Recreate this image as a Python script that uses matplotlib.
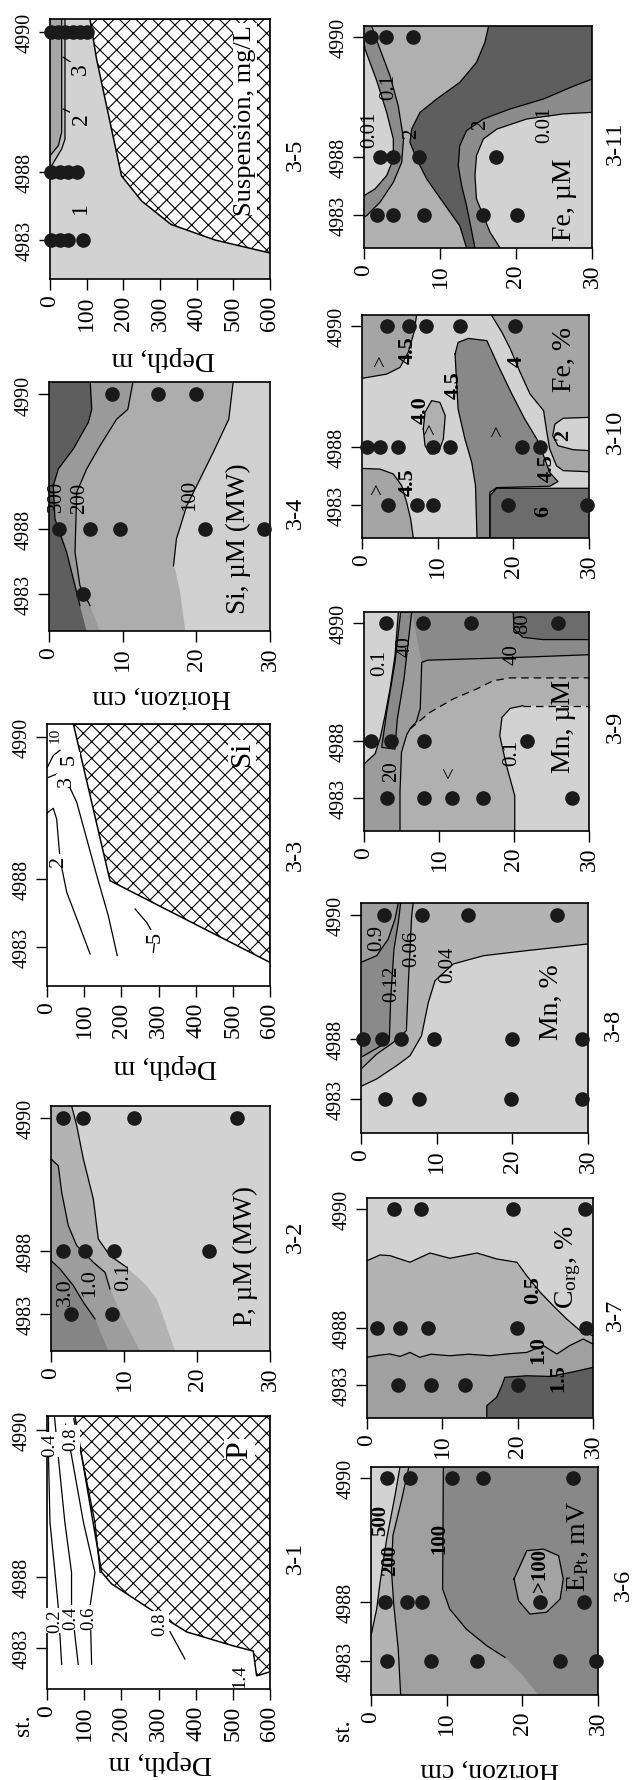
import matplotlib
matplotlib.use('Agg')
import matplotlib.pyplot as plt
from matplotlib.patches import Polygon

plt.rcParams['font.family'] = ['Liberation Serif', 'DejaVu Serif']
plt.rcParams['mathtext.fontset'] = 'custom'
plt.rcParams['mathtext.rm'] = 'Liberation Serif'
plt.rcParams['mathtext.it'] = 'Liberation Serif:italic'
plt.rcParams['hatch.linewidth'] = 0.8

# ---------------------------------------------------------------- data
STATIONS = ['4983', '4988', '4990']
STATION_DIST = [0.15, 0.41, 0.95]          # relative distance along the section
DEPTH_TICKS = [0, 100, 200, 300, 400, 500, 600]
HORIZON_TICKS = [0, 10, 20, 30]

# 3-1  P in the water column (depth m, distance)
P_FLOOR = [(75, 1.0), (147, 0.428), (174, 0.385), (277, 0.293), (376, 0.209),
           (501, 0.158), (555, 0.139), (564, 0.048), (598, 0.062), (600, 0.062)]
P_ISO_02 = [(4, 1.0), (4, 0.855), (8, 0.611), (21.5, 0.427), (30, 0.305), (39.5, 0.09)]
P_ISO_04 = [(20, 1.0), (30, 0.855), (48, 0.611), (66, 0.427), (66, 0.305), (84, 0.09)]
P_ISO_06 = [(50, 0.97), (66, 0.855), (98, 0.611), (129, 0.427), (116, 0.305), (120, 0.09)]
P_ISO_08 = [(72, 0.99), (93, 0.855), (129, 0.611), (143, 0.427)]
P_ISO_08B = [(331, 0.21), (371, 0.11)]

# 3-2  P in pore water (horizon cm, distance)
P_MW_01_LINE = [(2.83, 1.0), (3.52, 0.92), (4.43, 0.784), (5.8, 0.62), (6.48, 0.457),
                (8.08, 0.389), (10.4, 0.341)]
P_MW_01_SOFT = [(13.1, 0.267), (14.5, 0.212), (15.8, 0.103), (17.0, 0.0)]
P_MW_10_LINE = [(0, 0.784), (1.0, 0.756), (1.46, 0.648), (2.37, 0.512), (3.52, 0.43),
                (5.8, 0.362), (7.4, 0.321), (8.08, 0.253)]
P_MW_10_SOFT = [(9.9, 0.131), (12.2, 0.0)]
P_MW_30_LINE = [(0, 0.369), (1.23, 0.335), (3.06, 0.267), (4.43, 0.199), (6.03, 0.131)]
P_MW_30_SOFT = [(7.85, 0.0)]
P_MW_SAMPLES = [[2.8, 8.3], [1.7, 4.6, 8.6, 21.7], [1.7, 4.4, 11.4, 25.5]]

# 3-3  Si in the water column
SI_FLOOR = [(71, 1.0), (169.5, 0.402), (600, 0.09)]
SI_ISO_2 = [(0, 0.66), (8, 0.669), (17, 0.678), (26, 0.637), (35, 0.485), (53, 0.358),
            (84, 0.243), (116, 0.122)]
SI_ISO_3 = [(3.6, 0.796), (26, 0.809), (57, 0.771), (80, 0.701), (107, 0.561),
            (134, 0.421), (165, 0.268), (189, 0.116)]
SI_ISO_5 = [(1, 0.835), (17, 0.88), (35, 0.9)]
SI_ISO_5B = [(237, 0.294), (268, 0.243), (291, 0.186), (286, 0.128)]

# 3-4  Si in pore water
SI_MW_300_LINE = [(5.6, 1.0), (5.8, 0.89), (5.34, 0.838), (3.3, 0.731), (1.27, 0.651),
                  (0.59, 0.584), (0.81, 0.45), (2.4, 0.316), (4.2, 0.102)]
SI_MW_300_SOFT = [(5.1, 0.0)]
SI_MW_200_LINE = [(11.4, 1.0), (10.7, 0.89), (9.19, 0.851), (6.92, 0.744), (5.1, 0.65),
                  (3.76, 0.557), (3.53, 0.316), (4.2, 0.182), (5.57, 0.102)]
SI_MW_200_SOFT = [(6.9, 0.0)]
SI_MW_100_LINE = [(25.0, 1.0), (24.4, 0.85), (22.3, 0.718), (20.5, 0.61), (18.7, 0.503),
                  (17.3, 0.37), (16.9, 0.262)]
SI_MW_100_SOFT = [(17.1, 0.249), (17.8, 0.155), (18.5, 0.0)]
SI_MW_SAMPLES = [[4.66], [1.4, 5.5, 9.7, 21.2, 29.2], [8.5, 14.8, 20.0]]

# 3-5  suspension
SUS_FLOOR = [(109, 1.0), (127, 0.846), (195, 0.397), (250, 0.3), (330, 0.21),
             (450, 0.15), (600, 0.1)]
SUS_ISO_3 = [(31.8, 1.0), (31.8, 0.564), (22.7, 0.513), (0, 0.474)]
SUS_ISO_2 = [(40.9, 1.0), (40.9, 0.538), (31.8, 0.5), (4.5, 0.436), (0, 0.43)]
SUS_SAMPLES = [[4, 27, 50, 91], [4, 27, 50, 73], [3, 22, 42, 62, 82, 100]]

# 3-6  Eh (E_Pt)
EH_500 = [(3.83, 1.0), (3.17, 0.874), (2.07, 0.684), (1.2, 0.494), (0.75, 0.377),
          (0.1, 0.275), (0, 0.262)]
EH_200 = [(5.0, 1.0), (4.0, 0.85), (2.9, 0.7), (2.7, 0.55), (3.0, 0.4), (3.6, 0.2), (3.92, 0.0)]
EH_100_LINE = [(9.56, 1.0), (9.47, 0.465), (10.4, 0.377), (12.6, 0.289), (15.3, 0.216),
               (17.7, 0.165)]
EH_100_SOFT = [(20.1, 0.085), (22.1, 0.0)]
EH_OVAL = [(18.9, 0.509), (20.6, 0.633), (22.8, 0.64), (24.8, 0.611), (25.4, 0.509),
           (25.0, 0.421), (23.2, 0.363), (21.0, 0.355), (19.5, 0.414)]
EH_SAMPLES = [[2.16, 7.9, 14.05, 25, 29.7], [1.85, 4.7, 6.8, 22.3, 28.1],
              [2.16, 5.15, 10.75, 14.85, 26.7]]

# 3-7  C org
C_05 = [(0, 0.715), (1.73, 0.741), (3.05, 0.738), (5.7, 0.708), (8.36, 0.75), (11, 0.726),
        (14.6, 0.75), (17.2, 0.723), (19.9, 0.708), (21.2, 0.647), (23, 0.571), (24.7, 0.511),
        (26.5, 0.45), (28.3, 0.397), (30, 0.374)]
C_10 = [(0, 0.276), (1.5, 0.285), (3.05, 0.291), (4.4, 0.28), (5.7, 0.298), (7.0, 0.276),
        (8.5, 0.29), (11, 0.283), (13.5, 0.29), (16.3, 0.283), (18.8, 0.292), (21.2, 0.298),
        (23.4, 0.329), (25.2, 0.291), (26.9, 0.329), (28.7, 0.359), (30, 0.336)]
C_15 = [(15.9, 0.0), (15.9, 0.056), (17.2, 0.094), (17.9, 0.147), (18.3, 0.185),
        (21.2, 0.192), (24.3, 0.189), (27.4, 0.21), (30, 0.23)]
C_SAMPLES = [[4.16, 8.45, 13.0, 20.1], [1.37, 4.38, 8.14, 19.9, 29.1], [3.58, 7.17, 19.4, 28.9]]

# 3-8  Mn %
MN_004 = [(0, 0.203), (2.07, 0.235), (4.71, 0.293), (6.48, 0.336), (8.0, 0.423), (8.9, 0.568),
          (9.78, 0.662), (12.2, 0.735), (16.2, 0.771), (21.9, 0.793), (30, 0.822)]
MN_006 = [(0, 0.278), (2.07, 0.343), (4.27, 0.394), (6.0, 0.445), (6.26, 0.655), (6.48, 0.8),
          (6.7, 0.945), (6.9, 1.0)]
MN_012 = [(0, 0.329), (2.07, 0.368), (3.74, 0.401), (3.92, 0.583), (4.36, 0.8), (4.93, 0.916),
          (5.24, 1.0)]
MN_09 = [(0, 0.742), (2.07, 0.771), (3.6, 0.843), (4.49, 0.93), (4.93, 1.0)]
MN_SAMPLES = [[3.17, 7.7, 19.8, 29.2], [0.31, 2.73, 5.29, 9.7, 20.0, 29.2], [3.04, 8.0, 14.2, 25.9]]

# 3-9  Mn uM
MNU_01_TOP = [(4.58, 1.0), (4.13, 0.8), (3.47, 0.648), (2.8, 0.527), (2.13, 0.42),
              (1.47, 0.352), (0, 0.306)]
MNU_STRIP = [(6.36, 1.0), (5.33, 0.694), (4.44, 0.511), (4.13, 0.374), (2.36, 0.382),
             (3.02, 0.542), (4.13, 0.77), (4.89, 1.0)]
MNU_20 = [(4.8, 0.0), (4.8, 0.18), (5.0, 0.36), (5.7, 0.44), (6.13, 0.466)]
MNU_40_SIDE = [(6.13, 0.466), (7.0, 0.5), (7.5, 0.56), (7.7, 0.77)]
MNU_40_TOP = [(7.7, 0.77), (8.5, 0.78), (20, 0.792), (30, 0.805)]
MNU_80 = [(19.9, 1.0), (20.0, 0.922), (21.2, 0.884), (23.9, 0.874), (30, 0.874)]
MNU_DASH = [(6.13, 0.466), (8.8, 0.542), (11.9, 0.603), (15.0, 0.648), (17.2, 0.686),
            (19.5, 0.699), (30, 0.699)]
MNU_01_BOT = [(20.1, 0.0), (20.1, 0.161), (19.0, 0.298), (18.1, 0.435), (18.4, 0.519),
              (19.5, 0.56), (21.2, 0.572)]
MNU_DASH2 = [(21.2, 0.572), (30, 0.572)]
MNU_SAMPLES = [[3.02, 8.04, 11.7, 15.8, 27.7], [0.93, 3.56, 8.0, 21.7], [2.93, 7.9, 14.2, 25.9]]

# 3-10  Fe %
FE_TL = [(7.22, 1.0), (6.87, 0.922), (6.12, 0.833), (5.02, 0.765), (3.26, 0.735), (0, 0.716)]
FE_BL = [(0, 0.312), (2.38, 0.309), (4.14, 0.287), (5.24, 0.235), (5.9, 0.16), (6.43, 0.085),
         (6.78, 0.0)]
FE_RIGHT = [(17.1, 1.0), (18.5, 0.922), (19.6, 0.848), (20.9, 0.743), (22.2, 0.646),
            (24.0, 0.571), (24.4, 0.48), (24.8, 0.40), (25.7, 0.324), (26.6, 0.302), (30, 0.297)]
FE_CENTRAL = [(12.3, 0.825), (12.7, 0.877), (14.05, 0.895), (16.5, 0.885), (18.0, 0.773),
              (19.8, 0.646), (21.5, 0.534), (23.1, 0.444), (24.0, 0.369), (24.8, 0.294),
              (25.9, 0.253), (24.8, 0.232), (17.8, 0.226), (16.9, 0.205), (16.9, 0.0),
              (15.2, 0.0), (15.0, 0.235), (14.5, 0.339), (13.6, 0.444), (12.7, 0.578),
              (12.5, 0.698)]
FE_DARK = [(16.9, 0.0), (16.9, 0.19), (17.8, 0.223), (30, 0.223), (30, 0.0)]
FE_TWO = [(30, 0.541), (26.6, 0.537), (25.5, 0.511), (25.2, 0.459), (25.9, 0.414),
          (27.9, 0.396), (30, 0.392)]
FE_OVAL = [(8.1, 0.489), (8.33, 0.564), (9.2, 0.616), (10.3, 0.608), (11.0, 0.549),
           (10.75, 0.444), (10.1, 0.384), (9.0, 0.377), (8.33, 0.414)]
FE_SAMPLES = [[3.48, 7.22, 9.43, 19.3, 29.7], [0.62, 2.38, 4.8, 9.43, 11.6, 21.1, 23.5],
              [3.26, 6.26, 8.46, 12.95, 20.2]]

# 3-11  Fe uM
FEU_01 = [(1.0, 1.0), (2.1, 0.896), (3.42, 0.776), (4.5, 0.641), (5.2, 0.491), (4.96, 0.386),
          (3.86, 0.296), (2.1, 0.206), (0.35, 0.146), (0, 0.138)]
FEU_001_TL = [(0, 0.93), (0.13, 0.896), (1.67, 0.754), (2.98, 0.611), (3.86, 0.491),
              (3.86, 0.401), (2.98, 0.326), (1.45, 0.266), (0, 0.236)]
FEU_2_LEFT = [(16.4, 1.0), (15.9, 0.926), (14.8, 0.836), (12.6, 0.746), (9.56, 0.671),
              (7.37, 0.611), (6.27, 0.536), (6.05, 0.476), (6.93, 0.401), (8.25, 0.311),
              (10.4, 0.206), (12.6, 0.1), (13.5, 0.0)]
FEU_2_RIGHT = [(30, 0.761), (27.5, 0.728), (23.6, 0.671), (19.2, 0.626), (15.7, 0.581),
               (13.5, 0.529), (12.6, 0.461), (12.4, 0.371), (12.85, 0.281), (13.5, 0.19),
               (14.2, 0.07), (14.6, 0.0)]
FEU_001_BR = [(17.9, 0.0), (16.6, 0.07), (14.8, 0.221), (14.6, 0.326), (14.8, 0.416),
              (15.7, 0.491), (17.5, 0.536), (21.4, 0.581), (26.2, 0.604), (30, 0.611)]
FEU_SAMPLES = [[1.67, 3.77, 7.9, 15.7, 20.1], [2.1, 3.77, 7.28, 17.4], [0.92, 2.9, 6.4]]

# ---------------------------------------------------------------- styles
LIGHT = '#d2d2d2'
MID = '#b3b3b3'
MID2 = '#a0a0a0'
DARK = '#888888'
DARKER = '#6c6c6c'
DARKEST = '#5e5e5e'

W, H = 637, 1781
fig = plt.figure(figsize=(W / 100, H / 100), dpi=100)


def panel(box, xmax, xticks):
    x0, y0, x1, y1 = box
    ax = fig.add_axes([x0 / W, 1 - y1 / H, (x1 - x0) / W, (y1 - y0) / H])
    ax.set_xlim(0, xmax)
    ax.set_ylim(0, 1)
    ax.set_xticks(xticks)
    ax.set_xticklabels([str(t) for t in xticks], rotation=90, fontsize=17)
    ax.set_yticks(STATION_DIST)
    ax.set_yticklabels(STATIONS, rotation=90, va='center', fontsize=14.5)
    ax.tick_params(direction='out', length=8, width=1, pad=3)
    for s in ax.spines.values():
        s.set_linewidth(1.2)
        s.set_zorder(4)
    return ax


def area(ax, pts, color, z=1):
    ax.add_patch(Polygon(pts, closed=True, facecolor=color, edgecolor='none', zorder=z))


def floor(ax, pts):
    ax.add_patch(Polygon(pts, closed=True, facecolor='white', edgecolor='black',
                         hatch='xx', lw=1.1, zorder=2))


def iso(ax, pts, ls='-', lw=0.9):
    xs, ys = zip(*pts)
    ax.plot(xs, ys, color='black', lw=lw, ls=ls, zorder=3)


def note(ax, x, d, s, size=15, bold=False, bg=None):
    kw = {}
    if bg:
        kw['bbox'] = dict(facecolor=bg, edgecolor='none', pad=0.6)
    ax.text(x, d, s, rotation=90, ha='center', va='center', fontsize=size,
            fontweight='bold' if bold else 'normal', zorder=5, **kw)


def samples(ax, per_station):
    for dist, xs in zip(STATION_DIST, per_station):
        ax.plot(xs, [dist] * len(xs), 'o', color='#1a1a1a', ms=9.5, zorder=6, clip_on=False)


def ftext(x, y, s, size, rot=90):
    fig.text(x / W, 1 - y / H, s, rotation=rot, ha='center', va='center', fontsize=size)


# ---- 3-1
ax = panel((47, 1417, 270, 1690), 600, DEPTH_TICKS)
floor(ax, P_FLOOR + [(600, 1.0)])
for line in (P_ISO_02, P_ISO_04, P_ISO_06, P_ISO_08, P_ISO_08B):
    iso(ax, line)
for x, d, s in [(21.5, 0.25, '0.2'), (64, 0.262, '0.4'), (111, 0.262, '0.6'),
                (8, 0.897, '0.4'), (65, 0.92, '0.8'), (304, 0.24, '0.8'), (519, 0.05, '1.4')]:
    note(ax, x, d, s, 13.5, bg='white')
note(ax, 519, 0.88, 'P', 23, bg='white')

# ---- 3-2
ax = panel((51, 1107, 270, 1352), 30, HORIZON_TICKS)
ax.set_facecolor(LIGHT)
area(ax, [(0, 1)] + P_MW_01_LINE + P_MW_01_SOFT + [(0, 0)], MID)
area(ax, P_MW_10_LINE + P_MW_10_SOFT + [(0, 0)], '#9d9d9d')
area(ax, P_MW_30_LINE + P_MW_30_SOFT + [(0, 0)], '#858585')
for line in (P_MW_01_LINE, P_MW_10_LINE, P_MW_30_LINE):
    iso(ax, line)
note(ax, 1.92, 0.246, '3.0', 16)
note(ax, 5.3, 0.28, '1.0', 16)
note(ax, 9.9, 0.307, '0.1', 16)
note(ax, 26.6, 0.39, 'P, µM (MW)', 19.5)
samples(ax, P_MW_SAMPLES)

# ---- 3-3
ax = panel((47, 725, 270, 987), 600, DEPTH_TICKS)
floor(ax, SI_FLOOR + [(600, 1.0)])
for line in (SI_ISO_2, SI_ISO_3, SI_ISO_5, SI_ISO_5B):
    iso(ax, line)
for x, d, s, sz in [(30.5, 0.478, '2', 16), (53, 0.784, '3', 16), (60, 0.87, '5', 16),
                    (21.5, 0.962, '10', 11), (291, 0.19, '5', 16)]:
    note(ax, x, d, s, sz, bg='white')
note(ax, 524, 0.89, 'Si', 21, bg='white')

# ---- 3-4
ax = panel((49, 383, 270, 632), 30, HORIZON_TICKS)
ax.set_facecolor('#d0d0d0')
area(ax, [(0, 1)] + SI_MW_100_LINE + SI_MW_100_SOFT + [(0, 0)], '#adadad')
area(ax, [(0, 1)] + SI_MW_200_LINE + SI_MW_200_SOFT + [(0, 0)], '#9a9a9a')
area(ax, [(0, 1)] + SI_MW_300_LINE + SI_MW_300_SOFT + [(0, 0)], DARKEST)
for line in (SI_MW_100_LINE, SI_MW_200_LINE, SI_MW_300_LINE):
    iso(ax, line)
note(ax, 1.0, 0.543, '300', 15)
note(ax, 4.2, 0.537, '200', 15)
note(ax, 19.1, 0.55, '100', 15)
note(ax, 25.7, 0.376, 'Si, µM (MW)', 19.5)
samples(ax, SI_MW_SAMPLES)

# ---- 3-5
ax = panel((50, 20, 270, 280), 600, DEPTH_TICKS)
ax.set_facecolor(LIGHT)
area(ax, [(0, 1)] + SUS_ISO_2, '#bdbdbd')
area(ax, [(0, 1)] + SUS_ISO_3, '#a6a6a6')
iso(ax, SUS_ISO_3)
iso(ax, SUS_ISO_2)
floor(ax, SUS_FLOOR + [(600, 1.0)])
iso(ax, [(82, 0.81), (36, 0.853)])
iso(ax, [(86, 0.62), (36, 0.654)])
note(ax, 82, 0.81, '3', 17, bg=LIGHT)
note(ax, 86, 0.62, '2', 17, bg=LIGHT)
note(ax, 82, 0.276, '1', 17)
note(ax, 532, 0.615, 'Suspension, mg/L', 19, bg='white')
samples(ax, SUS_SAMPLES)

# ---- 3-6
ax = panel((371, 1468, 598, 1696), 30, HORIZON_TICKS)
ax.set_facecolor(DARK)
area(ax, [(0, 1)] + EH_100_LINE + EH_100_SOFT + [(0, 0)], MID2)
area(ax, [(0, 1)] + EH_200 + [(0, 0)], MID)
area(ax, [(0, 1)] + EH_500, LIGHT)
area(ax, EH_OVAL, '#a3a3a3')
for line in (EH_500, EH_200, EH_100_LINE, EH_OVAL + EH_OVAL[:1]):
    iso(ax, line)
note(ax, 1.19, 0.77, '500', 15, bold=True)
note(ax, 2.5, 0.596, '200', 15, bold=True)
note(ax, 9.1, 0.69, '100', 15, bold=True)
note(ax, 22.3, 0.55, '>100', 15, bold=True)
note(ax, 27.4, 0.655, r'E$_{\mathrm{Pt}}$, mV', 20)
samples(ax, EH_SAMPLES)

# ---- 3-7
ax = panel((367, 1199, 593, 1419), 30, HORIZON_TICKS)
ax.set_facecolor(LIGHT)
area(ax, C_05 + [(30, 0), (0, 0)], MID)
area(ax, C_10 + [(30, 0), (0, 0)], MID2)
area(ax, C_15 + [(30, 0)], DARKEST)
for line in (C_05, C_10, C_15):
    iso(ax, line)
note(ax, 22.1, 0.586, '0.5', 16, bold=True)
note(ax, 22.7, 0.314, '1.0', 16, bold=True)
note(ax, 25.4, 0.185, '1.5', 16, bold=True)
note(ax, 26.7, 0.69, r'C$_{\mathrm{org}}$, %', 20)
samples(ax, C_SAMPLES)

# ---- 3-8
ax = panel((361, 904, 588, 1134), 30, HORIZON_TICKS)
ax.set_facecolor(LIGHT)
area(ax, MN_004 + [(30, 1), (0, 1)], MID)
area(ax, MN_006 + [(0, 1)], MID2)
area(ax, MN_012 + [(0, 1)], '#8a8a8a')
area(ax, MN_09 + [(0, 1)], '#9e9e9e')
for line in (MN_004, MN_006, MN_012, MN_09):
    iso(ax, line)
note(ax, 2.07, 0.851, '0.9', 15)
note(ax, 4.05, 0.655, '0.12', 15)
note(ax, 6.7, 0.807, '0.06', 15)
note(ax, 11.5, 0.735, '0.04', 15)
note(ax, 25.2, 0.575, 'Mn, %', 20)
samples(ax, MN_SAMPLES)

# ---- 3-9
ax = panel((364, 613, 589, 832), 30, HORIZON_TICKS)
ax.set_facecolor('#9c9c9c')
area(ax, MNU_20 + MNU_DASH + [(30, 0)], '#b0b0b0')
area(ax, MNU_01_BOT + MNU_DASH2 + [(30, 0)], LIGHT)
area(ax, MNU_40_TOP + [(30, 1), (6.36, 1)], '#8a8a8a')
area(ax, MNU_80 + [(30, 1)], DARKER)
area(ax, [(0, 1)] + MNU_01_TOP, LIGHT)
area(ax, MNU_STRIP, '#8a8a8a')
iso(ax, MNU_01_TOP)
iso(ax, MNU_STRIP + MNU_STRIP[:1])
iso(ax, MNU_20 + MNU_40_SIDE + MNU_40_TOP)
iso(ax, MNU_80)
iso(ax, MNU_01_BOT)
iso(ax, MNU_DASH, ls=(0, (6, 4)))
iso(ax, MNU_DASH2, ls=(0, (6, 4)))
for x, d, s in [(2.13, 0.77, '0.1'), (5.47, 0.846, '40'), (19.7, 0.808, '40'),
                (21.2, 0.953, '80'), (3.7, 0.275, '20'), (19.7, 0.359, '0.1'),
                (11.5, 0.275, '<')]:
    note(ax, x, d, s, 15)
note(ax, 26.6, 0.481, 'Mn, µM', 20)
samples(ax, MNU_SAMPLES)

# ---- 3-10
ax = panel((362, 316, 589, 539), 30, HORIZON_TICKS)
ax.set_facecolor(LIGHT)
area(ax, [(0, 1)] + FE_TL, '#a5a5a5')
area(ax, FE_BL + [(0, 0)], '#a5a5a5')
area(ax, FE_RIGHT + [(30, 1)], '#a5a5a5')
area(ax, FE_TWO, LIGHT)
area(ax, FE_CENTRAL, DARK)
area(ax, FE_DARK, DARKER)
area(ax, FE_OVAL, '#b0b0b0')
for line in (FE_TL, FE_BL, FE_RIGHT, FE_TWO, FE_CENTRAL + FE_CENTRAL[:1],
             FE_DARK[:4], FE_OVAL + FE_OVAL[:1]):
    iso(ax, line)
for x, d, s in [(6.1, 0.847, '4.5'), (12.1, 0.69, '4.5'), (7.7, 0.578, '4.0'),
                (20.4, 0.795, '4'), (6.1, 0.257, '4.5'), (24.4, 0.317, '4.5'),
                (26.6, 0.466, '2'), (24, 0.123, '6')]:
    note(ax, x, d, s, 16, bold=True)
for x, d in [(2.6, 0.803), (18.0, 0.489), (2.16, 0.227), (9.2, 0.496)]:
    note(ax, x, d, '>', 15)
note(ax, 26.8, 0.803, 'Fe, %', 20)
samples(ax, FE_SAMPLES)

# ---- 3-11
ax = panel((364, 27, 592, 249), 30, HORIZON_TICKS)
ax.set_facecolor('#b0b0b0')
area(ax, [(0, 1)] + FEU_01, '#8c8c8c')
area(ax, FEU_001_TL, LIGHT)
area(ax, FEU_2_RIGHT + FEU_001_BR, '#8c8c8c')
area(ax, FEU_001_BR + [(30, 0)], LIGHT)
area(ax, FEU_2_LEFT + FEU_2_RIGHT[::-1] + [(30, 1)], DARKEST)
for line in (FEU_01, FEU_001_TL, FEU_2_LEFT, FEU_2_RIGHT, FEU_001_BR):
    iso(ax, line)
for x, d, s in [(0.8, 0.536, '0.01'), (3.2, 0.731, '0.1'), (6.3, 0.521, '2'),
                (15.3, 0.559, '2'), (23.8, 0.559, '0.01')]:
    note(ax, x, d, s, 15)
note(ax, 26.4, 0.22, 'Fe, µM', 20)
samples(ax, FEU_SAMPLES)

# ---- figure texts
for x, y, s in [(295, 1558, '3-1'), (295, 1237, '3-2'), (295, 855, '3-3'),
                (295, 513, '3-4'), (295, 155, '3-5'), (623, 1585, '3-6'),
                (615, 1315, '3-7'), (613, 1025, '3-8'), (615, 727, '3-9'),
                (615, 432, '3-10'), (615, 143, '3-11')]:
    ftext(x, y, s, 17.5)
ftext(23, 1725, 'st.', 17)
ftext(343, 1730, 'st.', 17)
for x, y, s in [(160, 1763, 'Depth, m'), (165, 1067, 'Depth, m'), (162, 697, 'Horizon, cm'),
                (163, 358, 'Depth, m'), (490, 1770, 'Horizon, cm')]:
    ftext(x, y, s, 20, rot=180)

fig.savefig('out.png', dpi=100)
